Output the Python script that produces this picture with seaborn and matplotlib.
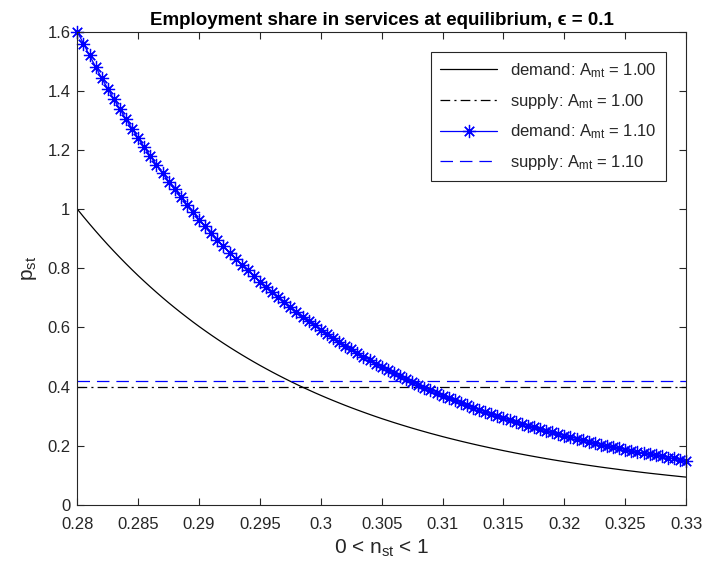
import numpy as np
import matplotlib
matplotlib.use('Agg')
import matplotlib.pyplot as plt
import seaborn as sns
from matplotlib.ticker import FuncFormatter

# 数据: 横轴 n_st 网格 (0.28 ~ 0.33, 每 0.0005 一个点)
n_st = [
    0.2800, 0.2805, 0.2810, 0.2815, 0.2820, 0.2825, 0.2830, 0.2835, 0.2840, 0.2845,
    0.2850, 0.2855, 0.2860, 0.2865, 0.2870, 0.2875, 0.2880, 0.2885, 0.2890, 0.2895,
    0.2900, 0.2905, 0.2910, 0.2915, 0.2920, 0.2925, 0.2930, 0.2935, 0.2940, 0.2945,
    0.2950, 0.2955, 0.2960, 0.2965, 0.2970, 0.2975, 0.2980, 0.2985, 0.2990, 0.2995,
    0.3000, 0.3005, 0.3010, 0.3015, 0.3020, 0.3025, 0.3030, 0.3035, 0.3040, 0.3045,
    0.3050, 0.3055, 0.3060, 0.3065, 0.3070, 0.3075, 0.3080, 0.3085, 0.3090, 0.3095,
    0.3100, 0.3105, 0.3110, 0.3115, 0.3120, 0.3125, 0.3130, 0.3135, 0.3140, 0.3145,
    0.3150, 0.3155, 0.3160, 0.3165, 0.3170, 0.3175, 0.3180, 0.3185, 0.3190, 0.3195,
    0.3200, 0.3205, 0.3210, 0.3215, 0.3220, 0.3225, 0.3230, 0.3235, 0.3240, 0.3245,
    0.3250, 0.3255, 0.3260, 0.3265, 0.3270, 0.3275, 0.3280, 0.3285, 0.3290, 0.3295,
    0.3300,
]

# 需求曲线 A_mt = 1.00
demand_100 = [
    1.0000, 0.9747, 0.9501, 0.9261, 0.9027, 0.8799, 0.8578, 0.8363, 0.8153, 0.7949,
    0.7750, 0.7558, 0.7370, 0.7187, 0.7008, 0.6834, 0.6666, 0.6502, 0.6342, 0.6185,
    0.6033, 0.5886, 0.5742, 0.5602, 0.5465, 0.5332, 0.5203, 0.5077, 0.4954, 0.4834,
    0.4717, 0.4604, 0.4493, 0.4385, 0.4280, 0.4177, 0.4077, 0.3980, 0.3886, 0.3793,
    0.3703, 0.3615, 0.3530, 0.3447, 0.3365, 0.3286, 0.3209, 0.3134, 0.3060, 0.2988,
    0.2918, 0.2851, 0.2784, 0.2720, 0.2657, 0.2595, 0.2535, 0.2477, 0.2419, 0.2364,
    0.2309, 0.2256, 0.2205, 0.2154, 0.2105, 0.2057, 0.2010, 0.1965, 0.1920, 0.1877,
    0.1834, 0.1793, 0.1752, 0.1713, 0.1674, 0.1637, 0.1600, 0.1564, 0.1529, 0.1495,
    0.1462, 0.1430, 0.1398, 0.1367, 0.1337, 0.1307, 0.1278, 0.1250, 0.1223, 0.1196,
    0.1169, 0.1144, 0.1119, 0.1094, 0.1070, 0.1047, 0.1025, 0.1002, 0.0981, 0.0959,
    0.0939,
]

# 需求曲线 A_mt = 1.10
demand_110 = [
    1.600, 1.560, 1.520, 1.482, 1.443, 1.408, 1.372, 1.338, 1.304, 1.272,
    1.240, 1.209, 1.179, 1.150, 1.121, 1.093, 1.067, 1.040, 1.015, 0.990,
    0.965, 0.942, 0.919, 0.896, 0.874, 0.853, 0.832, 0.812, 0.793, 0.773,
    0.755, 0.737, 0.719, 0.702, 0.685, 0.668, 0.652, 0.637, 0.622, 0.607,
    0.592, 0.578, 0.565, 0.552, 0.538, 0.526, 0.513, 0.501, 0.490, 0.478,
    0.467, 0.456, 0.445, 0.435, 0.425, 0.415, 0.406, 0.396, 0.387, 0.378,
    0.369, 0.361, 0.353, 0.345, 0.337, 0.329, 0.322, 0.314, 0.307, 0.300,
    0.293, 0.287, 0.280, 0.274, 0.268, 0.262, 0.256, 0.250, 0.245, 0.239,
    0.234, 0.229, 0.224, 0.219, 0.214, 0.209, 0.204, 0.200, 0.196, 0.191,
    0.187, 0.183, 0.179, 0.175, 0.171, 0.168, 0.164, 0.160, 0.157, 0.153,
    0.150,
]

# 供给水平 (水平线)
supply_100 = 0.40
supply_110 = 0.42

x_ticks = [0.28, 0.285, 0.29, 0.295, 0.30, 0.305, 0.31, 0.315, 0.32, 0.325, 0.33]
y_ticks = [0, 0.2, 0.4, 0.6, 0.8, 1.0, 1.2, 1.4, 1.6]

sns.set_theme(style='white')
plt.rcParams['font.family'] = ['Liberation Sans', 'DejaVu Sans']
plt.rcParams['mathtext.fontset'] = 'custom'
plt.rcParams['mathtext.rm'] = 'Liberation Sans'
plt.rcParams['mathtext.it'] = 'Liberation Sans:italic'
plt.rcParams['mathtext.bf'] = 'Liberation Sans:bold'
plt.rcParams['lines.scale_dashes'] = False

dark = '#262626'

fig = plt.figure(figsize=(7.03, 5.77), dpi=100)
ax = fig.add_axes([0.110, 0.125, 0.866, 0.820])

sns.lineplot(x=n_st, y=demand_100, ax=ax, color='black', lw=0.9,
             errorbar=None, label=r'demand: A$_{\mathregular{mt}}$ = 1.00')
sns.lineplot(x=n_st, y=[supply_100] * len(n_st), ax=ax, color='black', lw=0.9,
             linestyle=(0, (7, 3, 1.5, 3)), errorbar=None,
             label=r'supply: A$_{\mathregular{mt}}$ = 1.00')
sns.lineplot(x=n_st, y=demand_110, ax=ax, color='blue', lw=0.9,
             marker=(8, 2, 0), markersize=9.5, markeredgewidth=0.9,
             markeredgecolor='blue', markerfacecolor='blue', errorbar=None,
             clip_on=False, label=r'demand: A$_{\mathregular{mt}}$ = 1.10')
sns.lineplot(x=n_st, y=[supply_110] * len(n_st), ax=ax, color='blue', lw=0.9,
             linestyle=(0, (9, 5)), errorbar=None,
             label=r'supply: A$_{\mathregular{mt}}$ = 1.10')

ax.set_xlim(0.28, 0.33)
ax.set_ylim(0, 1.6)
ax.set_xticks(x_ticks)
ax.set_yticks(y_ticks)
fmt = FuncFormatter(lambda v, p: '%g' % round(v, 4))
ax.xaxis.set_major_formatter(fmt)
ax.yaxis.set_major_formatter(fmt)
ax.tick_params(axis='both', which='major', direction='in', length=5, width=0.8,
               color=dark, labelcolor=dark, labelsize=12,
               top=True, right=True, bottom=True, left=True)
ax.tick_params(axis='x', pad=9)
ax.tick_params(axis='y', pad=5)
for sp in ax.spines.values():
    sp.set_visible(True)
    sp.set_color(dark)
    sp.set_linewidth(0.8)

ax.set_xlabel(r'0 < n$_{\mathregular{st}}$ < 1', fontsize=15, color=dark, labelpad=4)
ax.set_ylabel(r'p$_{\mathregular{st}}$', fontsize=15, color=dark, labelpad=6)
ax.set_title('Employment share in services at equilibrium, \u03f5 = 0.1',
             fontsize=13.5, fontweight='bold', color='black', pad=5)

leg = ax.legend(loc='upper right', fontsize=12, frameon=True, fancybox=False,
                edgecolor=dark, framealpha=1, handlelength=3.4,
                borderaxespad=1.2, borderpad=0.55, labelspacing=0.72)
leg.get_frame().set_linewidth(0.8)

fig.savefig('out.png', dpi=100)
